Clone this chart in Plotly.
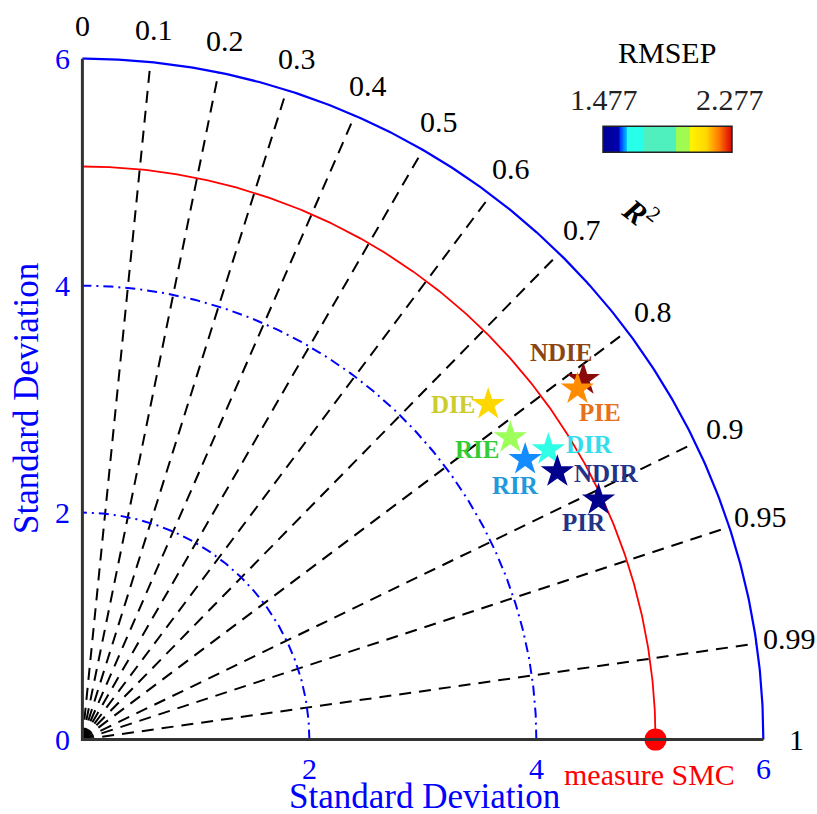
import numpy as np
import plotly.graph_objects as go

# ---------------- data ----------------
models = ["NDIE", "PIE", "DIE", "RIE", "DIR", "RIR", "NDIR", "PIR"]
std_dev = [5.436, 5.346, 4.638, 4.615, 4.836, 4.617, 4.805, 5.014]
corr = [0.812, 0.816, 0.771, 0.817, 0.849, 0.845, 0.871, 0.907]
marker_colors = ["#8b0a0a", "#ff8c00", "#ffd700", "#9cff5a", "#2effe6",
                 "#148cff", "#00008c", "#00008c"]
label_colors = ["#8b4513", "#e8701a", "#cccc2e", "#33cc33", "#33ddee",
                "#2299dd", "#223388", "#223388"]
# label offsets in px (xshift, yshift)
label_dx = [-22, 23, -35, -33, 41, -10, 49, -15]
label_dy = [27, -24, 0, -12, 5, -26, -2, -23]

ref_std = 5.05
rmsep_min, rmsep_max = 1.477, 2.277
r2_ticks = [0, 0.1, 0.2, 0.3, 0.4, 0.5, 0.6, 0.7, 0.8, 0.9, 0.95, 0.99, 1]
r2_tick_labels = ["0", "0.1", "0.2", "0.3", "0.4", "0.5", "0.6", "0.7", "0.8",
                  "0.9", "0.95", "0.99", "1"]
std_ticks = [0, 2, 4, 6]
std_tick_labels = ["0", "2", "4", "6"]
std_max = 6

FONT = "Liberation Serif"
XR = [-0.03, 6.05]
YR = [-0.03, 6.05]


def px_(x):
    return (x - XR[0]) / (XR[1] - XR[0])


def py_(y):
    return (y - YR[0]) / (YR[1] - YR[0])


fig = go.Figure()
theta = np.linspace(0, np.pi / 2, 300)

# radial dashed lines
for v in r2_ticks[1:-1]:
    a = np.arccos(v)
    fig.add_trace(go.Scatter(x=[0, std_max * np.cos(a)], y=[0, std_max * np.sin(a)],
                             mode="lines", line=dict(color="black", width=2, dash="12px,8px"),
                             hoverinfo="skip", showlegend=False))

# blue dash-dot arcs
for r in std_ticks[1:-1]:
    fig.add_trace(go.Scatter(x=r * np.cos(theta), y=r * np.sin(theta), mode="lines",
                             line=dict(color="#0000ff", width=2, dash="10px,5px,2px,5px"),
                             hoverinfo="skip", showlegend=False))

# outer blue arc
fig.add_trace(go.Scatter(x=std_max * np.cos(theta), y=std_max * np.sin(theta), mode="lines",
                         line=dict(color="#0000ff", width=2.2), hoverinfo="skip", showlegend=False))

# red reference arc
fig.add_trace(go.Scatter(x=ref_std * np.cos(theta), y=ref_std * np.sin(theta), mode="lines",
                         line=dict(color="#ff0000", width=1.8), hoverinfo="skip", showlegend=False))

# reference point
fig.add_trace(go.Scatter(x=[ref_std], y=[0], mode="markers",
                         marker=dict(color="#ff0000", size=22), cliponaxis=False,
                         hoverinfo="skip", showlegend=False))

# axis lines
fig.add_trace(go.Scatter(x=[0, 0, std_max], y=[std_max, 0, 0], mode="lines",
                         line=dict(color="#333333", width=3), hoverinfo="skip", showlegend=False))

# model points
xs = [s * c for s, c in zip(std_dev, corr)]
ys = [s * np.sin(np.arccos(c)) for s, c in zip(std_dev, corr)]
fig.add_trace(go.Scatter(x=xs, y=ys, mode="markers",
                         marker=dict(symbol="star", size=25, color=marker_colors,
                                     line=dict(width=0)),
                         text=models, hoverinfo="text", showlegend=False))

# colorbar (via invisible trace)
cscale = [[0, "rgb(0,0,150)"], [0.125, "rgb(0,0,175)"], [0.13, "rgb(0,40,255)"],
          [0.185, "rgb(0,200,255)"], [0.19, "rgb(40,255,235)"], [0.31, "rgb(40,255,235)"],
          [0.315, "rgb(80,240,190)"], [0.565, "rgb(80,240,190)"], [0.57, "rgb(160,250,80)"],
          [0.67, "rgb(160,250,80)"], [0.675, "rgb(255,245,0)"], [0.8, "rgb(255,215,0)"],
          [0.9, "rgb(255,120,0)"], [1.0, "rgb(220,0,0)"]]
fig.add_trace(go.Scatter(x=[-5, -5], y=[-5, -5], mode="markers",
                         marker=dict(color=[rmsep_min, rmsep_max], colorscale=cscale,
                                     cmin=rmsep_min, cmax=rmsep_max, showscale=True,
                                     colorbar=dict(orientation="h", x=(603 - 79) / 690, xanchor="left",
                                                   y=(743 - 140) / 690, yanchor="middle", lenmode="pixels",
                                                   len=129, thickness=26, xpad=0, ypad=0,
                                                   outlinewidth=1.5, outlinecolor="#222",
                                                   showticklabels=False, ticks="")),
                         hoverinfo="skip", showlegend=False))

ann = []


def add_text(x, y, text, size, color, data=False, **kw):
    ann.append(dict(xref="x" if data else "paper", yref="y" if data else "paper",
                    x=x, y=y, text=text, showarrow=False,
                    xanchor="center", yanchor="middle",
                    font=dict(family=FONT, size=size, color=color), **kw))


# model labels
for m, x, y, dx, dy, c in zip(models, xs, ys, label_dx, label_dy, label_colors):
    add_text(x, y, f"<b>{m}</b>", 25, c, data=True, xshift=dx, yshift=dy)

# R² tick labels
for v, t in zip(r2_ticks, r2_tick_labels):
    a = np.arccos(v)
    add_text(px_(6.29 * np.cos(a)), py_(6.29 * np.sin(a)), t, 30, "black")
ra = np.radians(43.3)
add_text(px_(6.756 * np.cos(ra)), py_(6.756 * np.sin(ra)), "<b><i>R</i></b><sup>2</sup>",
         31, "black", textangle=38)

# std tick labels
for v, t in zip(std_ticks, std_tick_labels):
    add_text(px_(0), py_(v), t, 30, "#0000ff", xshift=-20)
    if v > 0:
        add_text(px_(v), py_(0), t, 30, "#0000ff", yshift=-29)

# measure label
add_text(px_(ref_std), py_(0), "measure SMC", 30, "#ff0000", xshift=-6, yshift=-35)

# colorbar texts
add_text((667 - 79) / 690, (743 - 52) / 690, "RMSEP", 30, "black")
add_text((604 - 79) / 690, (743 - 99) / 690, f"{rmsep_min}", 30, "#222")
add_text((730 - 79) / 690, (743 - 99) / 690, f"{rmsep_max}", 30, "#222")

# axis titles
add_text((424 - 79) / 690, (743 - 796) / 690, "Standard Deviation", 35, "#0000ff")
add_text((27 - 79) / 690, (743 - 399) / 690, "Standard Deviation", 35, "#0000ff", textangle=-90)

fig.update_layout(
    width=817, height=814,
    margin=dict(l=79, r=48, t=53, b=71),
    paper_bgcolor="white", plot_bgcolor="white",
    annotations=ann,
    xaxis=dict(range=XR, showgrid=False, zeroline=False, showline=False,
               showticklabels=False, ticks=""),
    yaxis=dict(range=YR, showgrid=False, zeroline=False, showline=False,
               showticklabels=False, ticks=""),
)

fig.write_html("out.html", config={"displayModeBar": False},
               post_script="document.body.style.margin='0';document.body.style.overflow='hidden';")
